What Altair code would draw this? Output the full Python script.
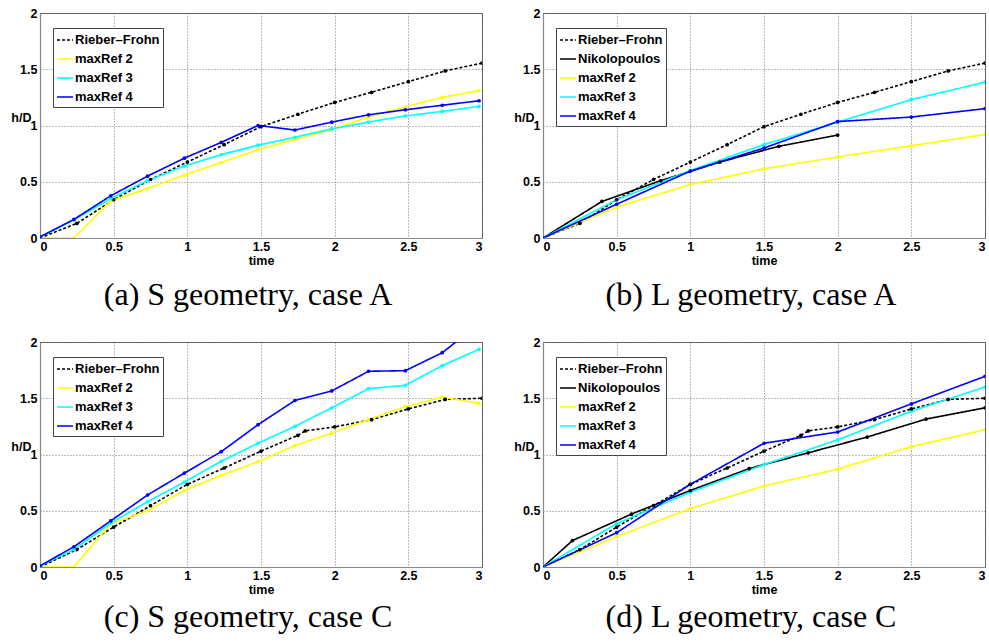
import altair as alt
import pandas as pd

# ---------------- data ----------------
t13 = [0, 0.23, 0.48, 0.73, 0.98, 1.23, 1.48, 1.73, 1.98, 2.23, 2.48, 2.73, 2.98]
t7 = [0, 0.5, 1.0, 1.5, 2.0, 2.5, 3.0]

# Rieber-Frohn experimental curves
rf_A_t = [0, 0.25, 0.5, 0.75, 1.0, 1.25, 1.5, 1.75, 2.0, 2.25, 2.5, 2.75, 3.0]
rf_A_h = [0, 0.13, 0.34, 0.52, 0.675, 0.83, 0.99, 1.10, 1.205, 1.295, 1.39, 1.485, 1.555]
rf_C_t = [0, 0.25, 0.5, 0.75, 1.0, 1.25, 1.5, 1.75, 1.8, 2.0, 2.25, 2.5, 2.75, 3.0]
rf_C_h = [0, 0.155, 0.355, 0.545, 0.735, 0.88, 1.03, 1.17, 1.21, 1.245, 1.31, 1.405, 1.49, 1.5]

# (a) S geometry, case A
a_ref2 = [0, 0, 0.33, 0.44, 0.56, 0.67, 0.785, 0.875, 0.965, 1.075, 1.165, 1.25, 1.31]
a_ref3 = [0.01, 0.16, 0.35, 0.51, 0.64, 0.74, 0.825, 0.895, 0.97, 1.03, 1.085, 1.125, 1.17]
a_ref4 = [0.01, 0.165, 0.375, 0.55, 0.71, 0.85, 1.0, 0.96, 1.03, 1.095, 1.14, 1.18, 1.22]

# (b) L geometry, case A
b_niko_t = [0, 0.4, 0.8, 1.2, 1.6, 2.0]
b_niko_h = [0, 0.325, 0.51, 0.675, 0.815, 0.915]
b_ref2 = [0, 0.275, 0.475, 0.615, 0.72, 0.82, 0.92]
b_ref3 = [0, 0.34, 0.60, 0.83, 1.03, 1.23, 1.385]
b_ref4 = [0, 0.30, 0.595, 0.80, 1.035, 1.075, 1.15]

# (c) S geometry, case C
c_ref2 = [0, 0, 0.385, 0.50, 0.68, 0.815, 0.935, 1.08, 1.19, 1.31, 1.425, 1.51, 1.455]
c_ref3 = [0.01, 0.155, 0.39, 0.58, 0.755, 0.94, 1.10, 1.25, 1.415, 1.585, 1.615, 1.79, 1.935]
c_ref4 = [0.01, 0.18, 0.41, 0.64, 0.835, 1.025, 1.265, 1.48, 1.565, 1.74, 1.745, 1.905, 2.16]

# (d) L geometry, case C
d_niko_t = [0, 0.2, 0.6, 1.0, 1.4, 1.8, 2.2, 2.6, 3.0]
d_niko_h = [0, 0.235, 0.47, 0.68, 0.875, 1.015, 1.155, 1.315, 1.415]
d_ref2 = [0, 0.27, 0.52, 0.72, 0.87, 1.07, 1.22]
d_ref3 = [0, 0.385, 0.665, 0.91, 1.13, 1.385, 1.60]
d_ref4 = [0, 0.305, 0.735, 1.10, 1.20, 1.45, 1.695]

captions = ["(a) S geometry, case A", "(b) L geometry, case A",
            "(c) S geometry, case C", "(d) L geometry, case C"]

RF = "Rieber\u2013Frohn"
NK = "Nikolopoulos"
M2, M3, M4 = "maxRef 2", "maxRef 3", "maxRef 4"
STYLE = {RF: ("black", [3, 2]), NK: ("black", [1, 0]), M2: ("#FFFF00", [1, 0]),
         M3: ("#00FFFF", [1, 0]), M4: ("#0000FF", [1, 0])}


def frame(series):
    rows = []
    for name, ts, hs in series:
        for i, (t, h) in enumerate(zip(ts, hs)):
            rows.append({"series": name, "time": t, "h": h, "i": i})
    return pd.DataFrame(rows)


W, H = 442, 225
FONT = "Liberation Sans"


def panel(series, caption, cap_dy):
    df = frame(series)
    order = [s[0] for s in series]
    colors = [STYLE[s][0] for s in order]
    dashes = [STYLE[s][1] for s in order]
    leg = alt.Legend(title=None, orient="none", legendX=13, legendY=15,
                     symbolType="stroke", symbolSize=256, symbolStrokeWidth=1.6,
                     labelFont=FONT, labelFontWeight="bold", labelFontSize=13,
                     labelColor="black", rowPadding=3, labelOffset=1, padding=3,
                     fillColor="white", strokeColor="#444")
    lines = alt.Chart(df).mark_line(
        strokeWidth=1.6, clip=True,
        point=alt.OverlayMarkDef(filled=True, size=14, clip=True)
    ).encode(
        x=alt.X("time:Q", scale=alt.Scale(domain=[0, 3], nice=False),
                axis=alt.Axis(title="time", values=[0, 0.5, 1, 1.5, 2, 2.5, 3],
                              format="~g", labelPadding=2, titlePadding=2)),
        y=alt.Y("h:Q", scale=alt.Scale(domain=[0, 2], nice=False),
                axis=alt.Axis(title="h/D", values=[0, 0.5, 1, 1.5, 2], format="~g",
                              labelPadding=3, titleAngle=0, titleX=-9, titleY=104,
                              titleAlign="right", titleBaseline="middle")),
        color=alt.Color("series:N", scale=alt.Scale(domain=order, range=colors), legend=leg),
        strokeDash=alt.StrokeDash("series:N", scale=alt.Scale(domain=order, range=dashes),
                                  legend=leg),
        order="i:Q",
    )
    cap = alt.Chart(pd.DataFrame({"caption": [caption]})).mark_text(
        font="Liberation Serif", fontSize=32, color="black", baseline="middle", align="center"
    ).encode(text="caption:N", x=alt.value(208), y=alt.value(H + cap_dy))
    return alt.layer(lines, cap).resolve_scale(
        color="independent", strokeDash="independent").properties(width=W, height=H)


pa = panel([(RF, rf_A_t, rf_A_h), (M2, t13, a_ref2), (M3, t13, a_ref3), (M4, t13, a_ref4)],
           captions[0], 57)
pb = panel([(RF, rf_A_t, rf_A_h), (NK, b_niko_t, b_niko_h), (M2, t7, b_ref2), (M3, t7, b_ref3),
            (M4, t7, b_ref4)], captions[1], 57)
pc = panel([(RF, rf_C_t, rf_C_h), (M2, t13, c_ref2), (M3, t13, c_ref3), (M4, t13, c_ref4)],
           captions[2], 50)
pd_ = panel([(RF, rf_C_t, rf_C_h), (NK, d_niko_t, d_niko_h), (M2, t7, d_ref2), (M3, t7, d_ref3),
             (M4, t7, d_ref4)], captions[3], 50)

chart = alt.concat(
    pa, pb, pc, pd_, columns=2, spacing={"row": 104, "column": 61}, bounds="flush"
).resolve_scale(
    color="independent", strokeDash="independent"
).properties(
    padding={"left": 10, "top": 6, "right": 0, "bottom": 0},
    background="white",
).configure_view(
    stroke="#666", strokeWidth=1
).configure_axis(
    labelFont=FONT, labelFontWeight="bold", labelFontSize=12.5, labelColor="black",
    titleFont=FONT, titleFontWeight="bold", titleFontSize=12.5, titleColor="black",
    grid=True, gridDash=[1, 2], gridColor="#555", gridWidth=0.8,
    domainColor="#888", domainWidth=1.2, ticks=False,
).configure_axisX(labelAngle=0)

chart.save("out.html", embed_options={"renderer": "svg", "actions": False})
